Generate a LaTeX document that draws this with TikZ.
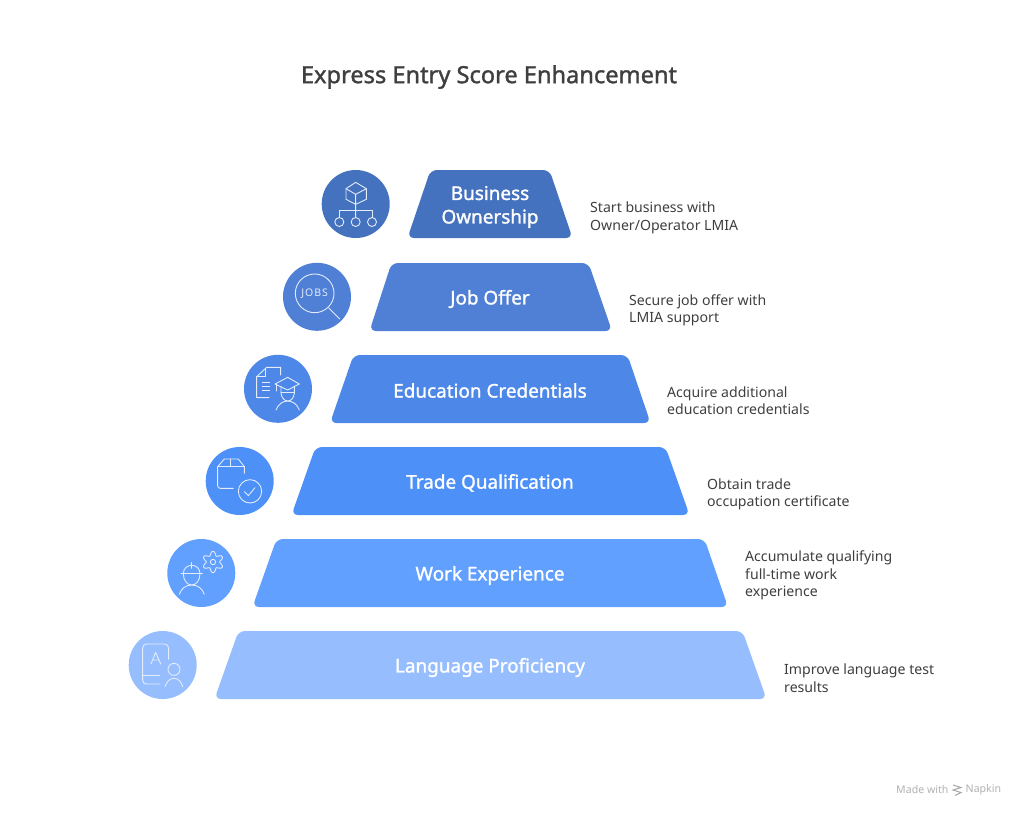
\documentclass[tikz,border=0pt]{standalone}
\usepackage{fontspec}
\setmainfont{Noto Sans}
\newfontfamily\medfont[FakeBold=1.4]{Noto Sans}
\definecolor{ca}{HTML}{4472BE}
\definecolor{cb}{HTML}{4F80D6}
\definecolor{cc}{HTML}{4D88E8}
\definecolor{cd}{HTML}{4D90F8}
\definecolor{ce}{HTML}{62A0FF}
\definecolor{cf}{HTML}{96BEFF}
\definecolor{tx}{HTML}{3F3F3F}
\definecolor{ic}{HTML}{E2ECFB}
\tikzset{
  trap/.style={rounded corners=6.5pt},
  tier/.style={text=white,font=\medfont\fontsize{18.9}{23.5}\selectfont,align=center,inner sep=0pt},
  note/.style={text=tx,font=\fontsize{14.1}{17.4}\selectfont,align=left,anchor=west,inner sep=0pt},
  disc/.style={circle,minimum size=68pt,inner sep=0pt},
  icon/.style={draw=ic,line width=0.9pt,line cap=round,line join=round,fill=none},
}
\begin{document}
\begin{tikzpicture}[x=1pt,y=-1pt]
\useasboundingbox (0,0) rectangle (1024,817);
\fill[white] (0,0) rectangle (1024,817);
\node[text=tx,font=\medfont\fontsize{23.6}{28}\selectfont,inner sep=0pt] (title) at (489,77) {Express Entry Score Enhancement};

\fill[ca,trap] (430.5,170)--(549.5,170)--(572.5,238)--(407.5,238)--cycle;
\fill[cb,trap] (391.5,263)--(588.5,263)--(612,331)--(369.5,331)--cycle;
\fill[cc,trap] (353.5,355)--(627.5,355)--(650.5,423)--(330,423)--cycle;
\fill[cd,trap] (315.5,447)--(665.5,447)--(689.5,515)--(291.5,515)--cycle;
\fill[ce,trap] (276.5,539)--(704.5,539)--(728,607)--(252.5,607)--cycle;
\fill[cf,trap] (238.5,631)--(742.5,631)--(766.5,699)--(214.5,699)--cycle;

\node[tier] (t1) at (490,207) {Business\\Ownership};
\node[tier] (t2) at (490,299) {Job Offer};
\node[tier] (t3) at (490,390.5) {Education Credentials};
\node[tier] (t4) at (490,483) {Trade Qualification};
\node[tier] (t5) at (490,575.5) {Work Experience};
\node[tier] (t6) at (490,667.5) {Language Proficiency};

\node[note] (n1) at (590,218) {Start business with\\Owner/Operator LMIA};
\node[note] (n2) at (629,310) {Secure job offer with\\LMIA support};
\node[note] (n3) at (667,401) {Acquire additional\\education credentials};
\node[note] (n4) at (707,494.5) {Obtain trade\\occupation certificate};
\node[note] (n5) at (745,575.5) {Accumulate qualifying\\full-time work\\experience};
\node[note] (n6) at (784,678) {Improve language test\\results};

\node[disc,fill=ca] (d1) at (355.7,204) {};
\node[disc,fill=cb] (d2) at (317,296.8) {};
\node[disc,fill=cc] (d3) at (278,388.8) {};
\node[disc,fill=cd] (d4) at (239.7,481) {};
\node[disc,fill=ce] (d5) at (201.3,573) {};
\node[disc,fill=cf] (d6) at (162.7,665) {};

% icons, in 3x crop coordinates
\begin{scope}[shift={(270,160)},x=1pt/3,y=-1pt/3,icon]
  \draw (257,67)--(289,86)--(289,118)--(257,133)--(228,118)--(228,86)--cycle;
  \draw (228,86)--(257,103)--(289,86) (257,103)--(257,133)--(257,172);
  \draw (208,172)--(208,152)--(306,152)--(306,172);
  \draw (208,186) circle (13.5);
  \draw (257,186) circle (13.5);
  \draw (306,186) circle (13.5);
  \draw (134,400) circle (58);
  \draw (176,444)--(209,477);
  \node[text=ic,font=\fontsize{10.5}{11}\selectfont,inner sep=0pt] (jobs) at (134,402) {J\kern1ptO\kern1ptB\kern1ptS};
\end{scope}

\begin{scope}[shift={(195,345)},x=1pt/3,y=-1pt/3,icon]
  \draw (257,90)--(257,67)--(215,67)--(185,95)--(185,158)--(222,158);
  \draw (212,70)--(212,95)--(185,95);
  \draw (202,113)--(224,113) (202,125)--(224,125) (202,137)--(224,137);
  \draw (278,97)--(313,117)--(278,135)--(240,117)--cycle;
  \draw (245,118)--(245,138);
  \draw (258,125)--(258,145) .. controls (260,160) and (270,168) .. (278,168) .. controls (288,168) and (296,160) .. (298,145)--(298,125);
  \draw (258,143)--(298,143);
  \draw (243,195) .. controls (250,176) and (265,168) .. (278,168) .. controls (291,168) and (306,176) .. (313,195);
  \draw (148,385)--(148,365)--(130,342)--(88,342)--(68,365)--(68,422) .. controls (68,427) and (71,430) .. (76,430)--(115,430);
  \draw (68,365)--(148,365) (107,342)--(107,365);
  \draw (165,439) circle (35);
  \draw (148,440)--(160,452)--(180,428);
\end{scope}

\begin{scope}[shift={(120,530)},x=1pt/3,y=-1pt/3,icon]
  \draw plot[domain=0:360,samples=97,smooth] ({279+(26+6*cos(6*\x))*cos(\x+30)},{96+(26+6*cos(6*\x))*sin(\x+30)});
  \draw (279,96) circle (8);
  \draw (183,131)--(247,131);
  \draw (190,131) .. controls (190,115) and (202,106) .. (215,106) .. controls (228,106) and (240,115) .. (240,131);
  \draw (215,98)--(215,115);
  \draw (190,131) .. controls (190,152) and (202,165) .. (215,165) .. controls (228,165) and (240,152) .. (240,131);
  \draw (178,193) .. controls (184,175) and (198,165) .. (215,165) .. controls (232,165) and (247,175) .. (253,193);
  \draw (146,388)--(146,355) .. controls (146,347) and (141,342) .. (133,342)--(80,342) .. controls (72,342) and (68,347) .. (68,355)--(68,450) .. controls (68,458) and (72,462) .. (80,462)--(120,462);
  \draw (68,436)--(120,436);
  \draw (93,402)--(107,367)--(122,402) (98,390)--(117,390);
  \draw (162,418) circle (18);
  \draw (135,470) .. controls (140,454) and (150,445) .. (162,445) .. controls (174,445) and (184,454) .. (188,470);
\end{scope}

\node[text=black!30,font=\fontsize{10.6}{12}\selectfont,anchor=west,inner sep=0pt] (made) at (896,790) {Made with};
\node[text=black!30,font=\fontsize{10.6}{12}\selectfont,anchor=west,inner sep=0pt] (nap) at (965.5,790) {Napkin};
\draw[black!35,line width=1pt] (953,785)--(961,787.5)--(953,790)--(961,792.5)--(955,795.5);
\end{tikzpicture}
\end{document}
